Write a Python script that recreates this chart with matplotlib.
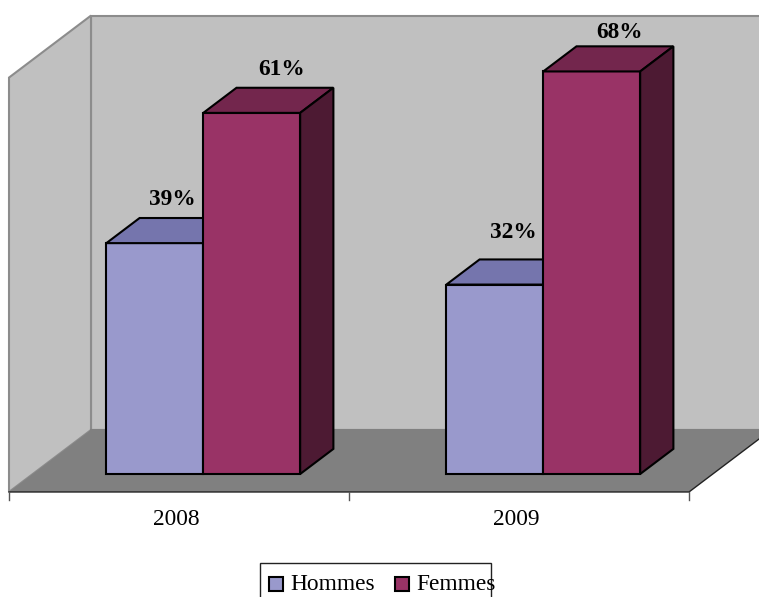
import matplotlib.pyplot as plt
from matplotlib.patches import Polygon, Rectangle

plt.rcParams['font.family'] = ['Liberation Serif']

categories = ["2008", "2009"]
hommes = [39, 32]
femmes = [61, 68]
axis_max = 70

# pixels per unit on the category and percent scales
PX_X = 340.0
PX_Y = 5.92
W, H = 759, 597

# oblique depth of the floor, in data units
DEPTH_X = 82 / PX_X
DEPTH_Y = 62 / PX_Y
BAR_W = 0.285
BAR_D0 = 0.29    # where the bars start on the floor
BAR_D1 = 0.695   # where they end
FONT = 16.8

EDGE = '#000000'
WALL_EDGE = '#8c8c8c'


def pt(x, v, d=0.0):
    # oblique projection: d=0 is the front of the floor, d=1 the back wall
    return (x + d * DEPTH_X, v + (d - BAR_D0) * DEPTH_Y)


def px(xp, yp):
    # image pixel position to data position
    return (xp - 9) / PX_X, (474 - yp) / PX_Y


def box(ax, x, value, colors):
    front, top, side = colors
    a, b = x, x + BAR_W
    faces = [
        ([pt(a, 0, BAR_D0), pt(b, 0, BAR_D0), pt(b, value, BAR_D0), pt(a, value, BAR_D0)], front),
        ([pt(a, value, BAR_D0), pt(b, value, BAR_D0), pt(b, value, BAR_D1), pt(a, value, BAR_D1)], top),
        ([pt(b, 0, BAR_D0), pt(b, 0, BAR_D1), pt(b, value, BAR_D1), pt(b, value, BAR_D0)], side),
    ]
    for verts, color in faces:
        ax.add_patch(Polygon(verts, closed=True, facecolor=color, edgecolor=EDGE,
                             linewidth=1.5, joinstyle='miter', zorder=3))


fig = plt.figure(figsize=(W / 100, H / 100), dpi=100)
ax = fig.add_axes([0, 0, 1, 1])
ax.set_xlim(-9 / PX_X, (W - 9) / PX_X)
ax.set_ylim(-(H - 474) / PX_Y, 474 / PX_Y)
ax.axis('off')

n = len(categories)

# back wall, left wall and floor
ax.add_patch(Polygon([pt(0, 0, 1), pt(n + 1, 0, 1), pt(n + 1, axis_max, 1), pt(0, axis_max, 1)],
                     closed=True, facecolor='#c0c0c0', edgecolor=WALL_EDGE, linewidth=1.5, zorder=1))
ax.add_patch(Polygon([pt(0, 0, 0), pt(0, 0, 1), pt(0, axis_max, 1), pt(0, axis_max, 0)],
                     closed=True, facecolor='#c0c0c0', edgecolor=WALL_EDGE, linewidth=1.5, zorder=1))
ax.add_patch(Polygon([pt(0, 0, 0), pt(n, 0, 0), pt(n, 0, 1), pt(0, 0, 1)],
                     closed=True, facecolor='#808080', edgecolor='none', zorder=2))
ax.plot(*zip(pt(0, 0, 1), pt(n + 1, 0, 1)), color='#808080', lw=1.5, zorder=2)
ax.plot(*zip(pt(0, 0, 0), pt(n, 0, 0), pt(n, 0, 1)), color='#222222', lw=1, zorder=2,
        solid_joinstyle='miter')

# category axis ticks and labels
tick_len = 8 / PX_Y
for i in range(n + 1):
    x, y = pt(i, 0, 0)
    ax.plot([x, x], [y, y - tick_len], color='#555555', lw=1, zorder=2)
for i, label in enumerate(categories):
    x, y = pt(i + 0.5, 0, 0)
    ax.text(x - 2.5 / PX_X, y - 27.5 / PX_Y, label, ha='center', va='center', fontsize=FONT)

# bars
label_offsets_h = [(18, 44), (19, 52)]
label_offsets_f = [(30, 43), (28, 39)]
nudge = 0.5 / PX_X
for i in range(n):
    x_h = i + 0.5 - BAR_W + nudge
    x_f = i + 0.5 + nudge
    box(ax, x_h, hommes[i], ('#9999cc', '#7575ad', '#5c5c8a'))
    box(ax, x_f, femmes[i], ('#993366', '#73264d', '#4d1a33'))
    for x0, val, off in [(x_h, hommes[i], label_offsets_h[i]), (x_f, femmes[i], label_offsets_f[i])]:
        cx, cy = pt(x0 + BAR_W / 2, val, BAR_D0)
        ax.text(cx + off[0] / PX_X, cy + off[1] / PX_Y, f"{val}%", ha='center', va='center',
                fontsize=FONT, fontweight='bold', zorder=5)

# legend drawn by hand so the box can run off the bottom edge
ax.add_patch(Rectangle(px(260, 600), 231 / PX_X, 37 / PX_Y, facecolor='white', edgecolor='#222222',
                       linewidth=1, zorder=4))
for sx, tx, color, name in [(269, 290, '#9999cc', 'Hommes'), (395, 416, '#993366', 'Femmes')]:
    ax.add_patch(Rectangle(px(sx, 591), 14 / PX_X, 14 / PX_Y, facecolor=color, edgecolor=EDGE,
                           linewidth=1.5, zorder=5))
    tx_d, ty_d = px(tx, 584)
    ax.text(tx_d, ty_d, name, ha='left', va='center', fontsize=FONT, zorder=5)

fig.savefig("out.png", dpi=100)
plt.close()
